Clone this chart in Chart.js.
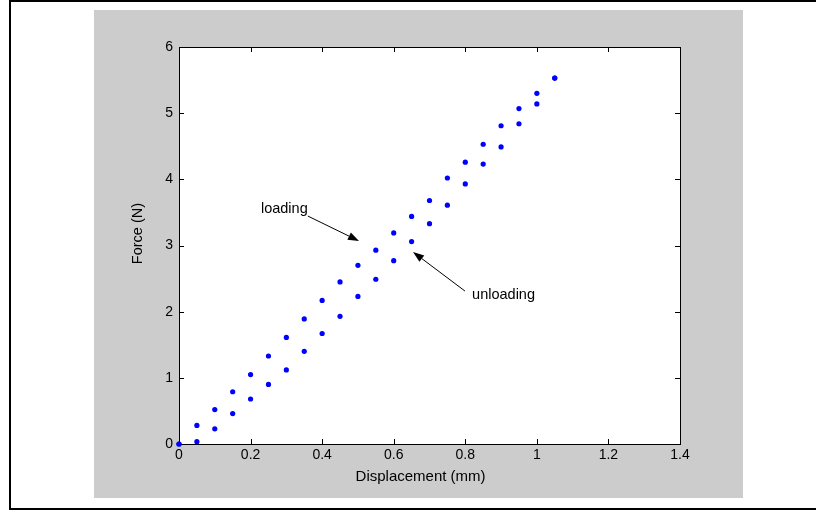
<!DOCTYPE html>
<html><head><meta charset="utf-8">
<script src="https://cdn.jsdelivr.net/npm/chart.js@4.4.0/dist/chart.umd.min.js"></script>
<style>html,body{margin:0;padding:0;background:#fff;}canvas{display:block;}</style>
</head><body>
<canvas id="c" width="816" height="510"></canvas>
<script>
// ---- data ----
const displacement = [0,0.05,0.1,0.15,0.2,0.25,0.3,0.35,0.4,0.45,0.5,0.55,0.6,0.65,0.7,0.75,0.8,0.85,0.9,0.95,1.0,1.05];
const loadingForce = [0,0.28,0.52,0.79,1.05,1.33,1.61,1.89,2.17,2.45,2.70,2.93,3.19,3.44,3.68,4.02,4.26,4.53,4.81,5.07,5.30,5.53];
const unloadingForce = [0,0.035,0.23,0.46,0.68,0.90,1.12,1.40,1.67,1.93,2.23,2.49,2.77,3.06,3.33,3.61,3.93,4.23,4.49,4.84,5.14,5.53];
const xTickValues = [0,0.2,0.4,0.6,0.8,1,1.2,1.4];
const xTickLabels = ['0','0.2','0.4','0.6','0.8','1','1.2','1.4'];
const yTickValues = [0,1,2,3,4,5,6];
const yTickLabels = ['0','1','2','3','4','5','6'];
const xTitle = 'Displacement (mm)';
const yTitle = 'Force (N)';
const annotationTexts = ['loading','unloading'];

// ---- annotation / title placement (data space) ----
const annotationPlacement = [
  {textAt:[0.229,3.55], from:[0.360,3.445], to:[0.503,3.068]},
  {textAt:[0.819,2.252], from:[0.799,2.312], to:[0.654,2.902]}
];
const xTitleAt = [0.675, -0.492];   // centre of x title
const yTitleAt = [-0.115, 3.18];    // centre of y title

const FAMILY = '"Liberation Sans", Arial, Helvetica, sans-serif';
const FS = 14;

const toPts = (xs, ys) => xs.map((x,i)=>({x:x, y:ys[i]}));

const framePlugin = {
  id:'frame',
  beforeDraw(chart){
    const ctx = chart.ctx, a = chart.chartArea;
    ctx.save();
    ctx.fillStyle = '#ffffff'; ctx.fillRect(0,0,chart.width,chart.height);
    ctx.fillStyle = '#000000';
    ctx.fillRect(9,0,2,chart.height);
    ctx.fillRect(9,0,chart.width-9,2);
    ctx.fillRect(9,chart.height-2,chart.width-9,2);
    ctx.fillStyle = '#cccccc'; ctx.fillRect(94,10,649,488);
    ctx.fillStyle = '#ffffff'; ctx.fillRect(a.left,a.top,a.right-a.left,a.bottom-a.top);
    ctx.restore();
  },
  beforeDatasetsDraw(chart){
    const ctx = chart.ctx, a = chart.chartArea;
    const xs = chart.scales.x, ys = chart.scales.y;
    ctx.save();
    ctx.strokeStyle = '#000'; ctx.lineWidth = 1;
    ctx.strokeRect(Math.round(a.left)+0.5, Math.round(a.top)+0.5, Math.round(a.right-a.left), Math.round(a.bottom-a.top));
    const tl = 5;
    ctx.beginPath();
    xTickValues.forEach(v=>{
      const px = Math.round(xs.getPixelForValue(v))+0.5;
      ctx.moveTo(px, a.bottom); ctx.lineTo(px, a.bottom-tl);
      ctx.moveTo(px, a.top); ctx.lineTo(px, a.top+tl);
    });
    yTickValues.forEach(v=>{
      const py = Math.round(ys.getPixelForValue(v))+0.5;
      ctx.moveTo(a.left, py); ctx.lineTo(a.left+tl, py);
      ctx.moveTo(a.right, py); ctx.lineTo(a.right-tl, py);
    });
    ctx.stroke();
    // axis titles
    const P = p => [xs.getPixelForValue(p[0]), ys.getPixelForValue(p[1])];
    ctx.fillStyle = '#000';
    ctx.textAlign = 'center'; ctx.textBaseline = 'middle';
    ctx.font = '15px ' + FAMILY;
    const xt = P(xTitleAt);
    ctx.fillText(xTitle, xt[0], xt[1]);
    const yt = P(yTitleAt);
    ctx.font = '14.5px ' + FAMILY;
    ctx.translate(yt[0], yt[1]); ctx.rotate(-Math.PI/2);
    ctx.fillText(yTitle, 0, 0);
    ctx.restore();
  },
  afterDatasetsDraw(chart){
    const ctx = chart.ctx;
    const xs = chart.scales.x, ys = chart.scales.y;
    const P = p => [xs.getPixelForValue(p[0]), ys.getPixelForValue(p[1])];
    ctx.save();
    ctx.font = '14.5px ' + FAMILY;
    ctx.fillStyle = '#000'; ctx.strokeStyle = '#000'; ctx.lineWidth = 1;
    ctx.textAlign = 'left'; ctx.textBaseline = 'middle';
    annotationPlacement.forEach((an,i)=>{
      const t = P(an.textAt), f = P(an.from), to = P(an.to);
      ctx.fillText(annotationTexts[i], t[0], t[1]);
      const ang = Math.atan2(to[1]-f[1], to[0]-f[0]);
      const L = 11, W = 4;
      const bx = to[0]-L*Math.cos(ang), by = to[1]-L*Math.sin(ang);
      ctx.beginPath(); ctx.moveTo(f[0],f[1]); ctx.lineTo(bx,by); ctx.stroke();
      ctx.beginPath();
      ctx.moveTo(to[0],to[1]);
      ctx.lineTo(bx + W*Math.sin(ang), by - W*Math.cos(ang));
      ctx.lineTo(bx - W*Math.sin(ang), by + W*Math.cos(ang));
      ctx.closePath(); ctx.fill();
    });
    ctx.restore();
  }
};

new Chart(document.getElementById('c'), {
  type:'scatter',
  data:{
    datasets:[
      {label:'loading', data:toPts(displacement, loadingForce), backgroundColor:'#0000ff', borderWidth:0, pointRadius:2.6, clip:false},
      {label:'unloading', data:toPts(displacement, unloadingForce), backgroundColor:'#0000ff', borderWidth:0, pointRadius:2.6, clip:false}
    ]
  },
  options:{
    responsive:false, animation:false, devicePixelRatio:1,
    layout:{padding:{left:0, top:47, right:136, bottom:0}},
    plugins:{legend:{display:false}, tooltip:{enabled:false}},
    scales:{
      x:{
        type:'linear', min:0, max:1.4,
        grid:{display:false, drawTicks:false, tickLength:0},
        border:{display:false},
        afterBuildTicks:s=>{ s.ticks = xTickValues.map(v=>({value:v})); },
        ticks:{color:'#000', padding:3, font:{family:FAMILY, size:FS}, maxRotation:0, autoSkip:false,
               callback:(v)=>{ const i = xTickValues.indexOf(v); return i>=0 ? xTickLabels[i] : ''; }},
        title:{display:false},
        afterFit:s=>{ s.height = 66; }
      },
      y:{
        type:'linear', min:0, max:6,
        grid:{display:false, drawTicks:false, tickLength:0},
        border:{display:false},
        afterBuildTicks:s=>{ s.ticks = yTickValues.map(v=>({value:v})); },
        ticks:{color:'#000', padding:6, font:{family:FAMILY, size:FS}, autoSkip:false,
               callback:(v)=>{ const i = yTickValues.indexOf(v); return i>=0 ? yTickLabels[i] : ''; }},
        title:{display:false},
        afterFit:s=>{ s.width = 179; }
      }
    }
  },
  plugins:[framePlugin]
});
</script>
</body></html>
